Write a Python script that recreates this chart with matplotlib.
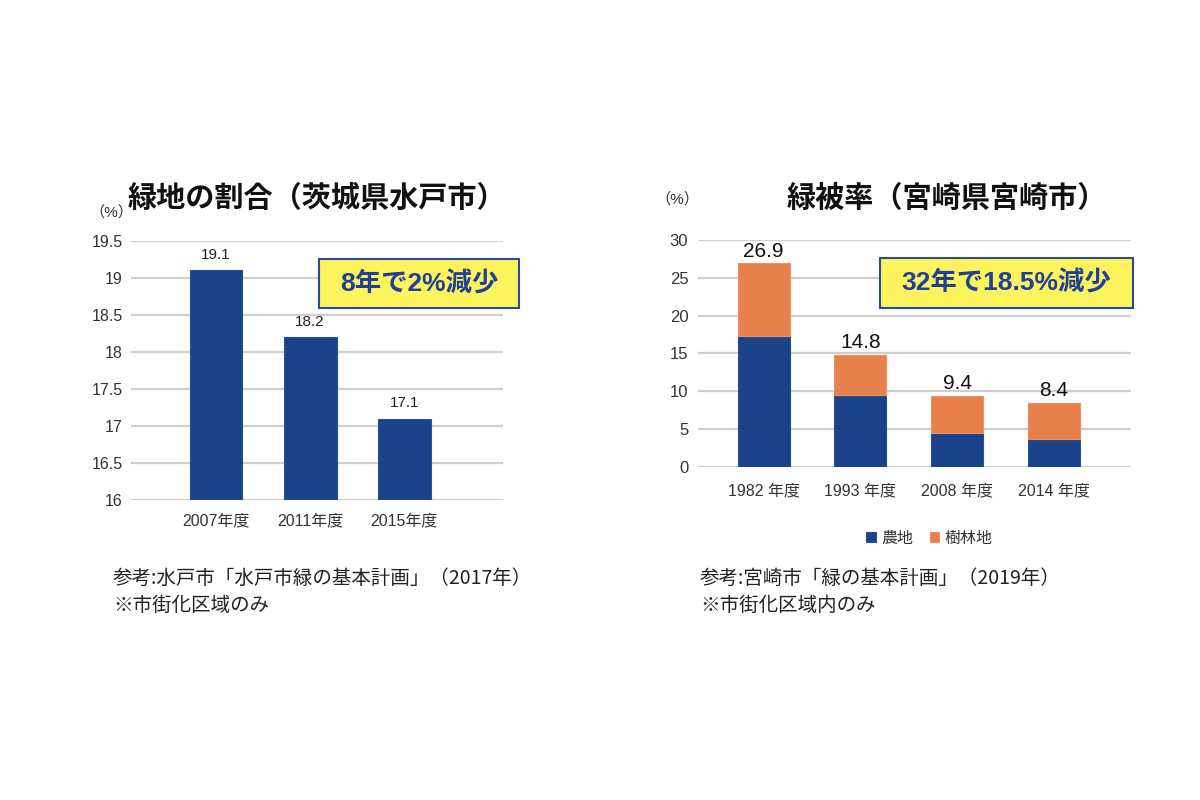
import matplotlib.pyplot as plt
from matplotlib.patches import Rectangle

plt.rcParams['font.family'] = ['Liberation Sans', 'Noto Sans CJK JP', 'DejaVu Sans']
CJK = ['Noto Sans CJK JP', 'DejaVu Sans']

# left chart: 水戸市
mito_years = ['2007年度', '2011年度', '2015年度']
mito_values = [19.1, 18.2, 17.1]
mito_ticks = [16, 16.5, 17, 17.5, 18, 18.5, 19, 19.5]
mito_tick_labels = ['16', '16.5', '17', '17.5', '18', '18.5', '19', '19.5']

# right chart: 宮崎市
miya_years = ['1982 年度', '1993 年度', '2008 年度', '2014 年度']
miya_farm = [17.3, 9.5, 4.4, 3.7]
miya_total = [26.9, 14.8, 9.4, 8.4]
miya_forest = [t - f for t, f in zip(miya_total, miya_farm)]
miya_ticks = [0, 5, 10, 15, 20, 25, 30]

BLUE = '#1b4389'
ORANGE = '#e8804b'
YELLOW = '#fdf35c'
BOX_EDGE = '#2a4aa0'
GRID = '#cfcfcf'
TXT = '#333333'

W, H = 1200, 800
fig = plt.figure(figsize=(12, 8), dpi=100)
fig.patch.set_facecolor('white')


def px_axes(x0, y0, x1, y1):
    return fig.add_axes([x0 / W, 1 - y1 / H, (x1 - x0) / W, (y1 - y0) / H])


def ftext(x, y, s, **kw):
    fig.text(x / W, 1 - y / H, s, **kw)


def style(ax, ticks, labels, size, pad):
    for s in ax.spines.values():
        s.set_visible(False)
    ax.set_yticks(ticks)
    ax.set_yticklabels(labels, fontsize=size, color=TXT)
    ax.yaxis.grid(True, color=GRID, linewidth=1.6)
    ax.set_axisbelow(True)
    ax.tick_params(length=0)
    ax.tick_params(axis='y', pad=pad)


# ---- left
ax1 = px_axes(131, 240.7, 503, 500)
x1 = range(len(mito_years))
ax1.bar(x1, [v - 16 for v in mito_values], bottom=16, width=0.56,
        color=BLUE, edgecolor='#2850a0', linewidth=0.8, zorder=3)
ax1.set_xlim(-0.905, 3.05)
ax1.set_ylim(16, 19.5)
style(ax1, mito_ticks, mito_tick_labels, 11.5, 6)
ax1.set_xticks(list(x1))
ax1.set_xticklabels(mito_years, fontsize=11.5, color=TXT)
ax1.tick_params(axis='x', pad=10)
for i, v in enumerate(mito_values):
    ax1.annotate(f'{v}', (i, v), xytext=(0, 6), textcoords='offset points',
                 ha='center', va='bottom', fontsize=11, color='#222222')

# ---- right
ax2 = px_axes(698, 240, 1131, 466.7)
x2 = range(len(miya_years))
ax2.bar(x2, miya_farm, width=0.54, color=BLUE, edgecolor='#2850a0',
        linewidth=0.8, zorder=3, label='農地')
ax2.bar(x2, miya_forest, bottom=miya_farm, width=0.54, color=ORANGE,
        edgecolor='#f09060', linewidth=0.8, zorder=3, label='樹林地')
ax2.set_xlim(-0.68, 3.80)
ax2.set_ylim(0, 30)
style(ax2, miya_ticks, [str(t) for t in miya_ticks], 12, 7)
ax2.set_xticks(list(x2))
ax2.set_xticklabels(miya_years, fontsize=11.5, color=TXT)
ax2.tick_params(axis='x', pad=12)
for i, v in enumerate(miya_total):
    ax2.annotate(f'{v}', (i, v), xytext=(0, 2), textcoords='offset points',
                 ha='center', va='bottom', fontsize=15, color='#111111')
leg = ax2.legend(loc='upper center', bbox_to_anchor=(0.535, -0.215), ncol=2,
                 frameon=False, handlelength=0.6,
                 handleheight=0.6, columnspacing=1.0, handletextpad=0.35,
                 prop={'family': CJK, 'size': 11.5})
for t in leg.get_texts():
    t.set_color(TXT)

# ---- titles and units
ftext(317, 198, '緑地の割合（茨城県水戸市）', ha='center', va='center',
      fontsize=21, fontweight='bold', color='#111111', family=CJK)
ftext(947, 198, '緑被率（宮崎県宮崎市）', ha='center', va='center',
      fontsize=21, fontweight='bold', color='#111111', family=CJK)
ftext(111, 212, '（%）', ha='center', va='center', fontsize=11, color=TXT)
ftext(677, 199, '（%）', ha='center', va='center', fontsize=11, color=TXT)

# ---- callout boxes
for (bx0, by0, bx1, by1, s) in [(319, 259, 519, 308, '8年で2%減少'),
                                 (880, 258, 1133, 308, '32年で18.5%減少')]:
    fig.patches.append(Rectangle((bx0 / W, 1 - by1 / H), (bx1 - bx0) / W,
                                 (by1 - by0) / H, transform=fig.transFigure,
                                 facecolor=YELLOW, edgecolor=BOX_EDGE,
                                 linewidth=1.5, zorder=5))
    ftext((bx0 + bx1) / 2, (by0 + by1) / 2, s, ha='center', va='center',
          fontsize=19, fontweight='bold', color='#1f3f9a', zorder=6)

# ---- notes
note_kw = dict(ha='left', va='center', fontsize=14, color='#222222',
               family=CJK)
ftext(113, 578, '参考:水戸市「水戸市緑の基本計画」（2017年）', **note_kw)
ftext(113, 605, '※市街化区域のみ', **note_kw)
ftext(700, 578, '参考:宮崎市「緑の基本計画」（2019年）', **note_kw)
ftext(700, 605, '※市街化区域内のみ', **note_kw)

fig.savefig('out.png', dpi=100, facecolor='white')
